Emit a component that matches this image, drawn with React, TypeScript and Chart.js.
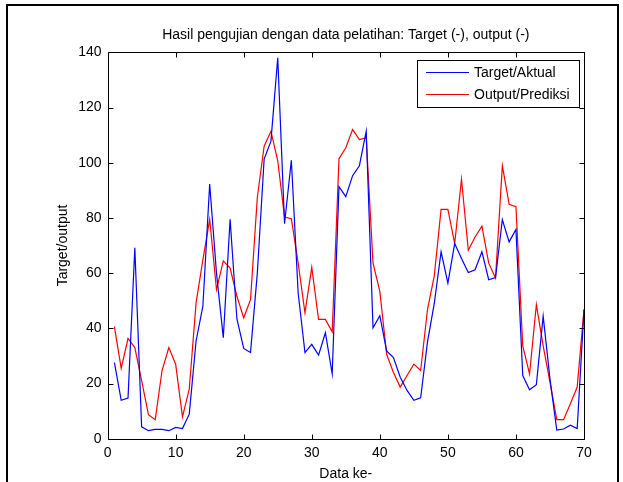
import React, { useEffect, useRef } from "react";
import { Chart, registerables } from "chart.js";

Chart.register(...registerables);

const TITLE = "Hasil pengujian dengan data pelatihan: Target (-), output (-)";
const X_TITLE = "Data ke-";
const Y_TITLE = "Target/output";
const SERIES_LABELS = ["Target/Aktual", "Output/Prediksi"];

const dataIndex = [
  1, 2, 3, 4, 5, 6, 7, 8, 9, 10, 11, 12, 13, 14, 15, 16, 17, 18, 19, 20,
  21, 22, 23, 24, 25, 26, 27, 28, 29, 30, 31, 32, 33, 34, 35, 36, 37, 38, 39, 40,
  41, 42, 43, 44, 45, 46, 47, 48, 49, 50, 51, 52, 53, 54, 55, 56, 57, 58, 59, 60,
  61, 62, 63, 64, 65, 66, 67, 68, 69, 70,
];

const targetValues = [
  27.6, 13.9, 14.7, 69.2, 4.3, 2.9, 3.4, 3.4, 2.9, 4.1,
  3.7, 8.9, 35.4, 48, 92.3, 60, 36.6, 79.5, 43.4, 32.7,
  31.2, 60, 101.3, 107.8, 138, 77.9, 100.9, 52.8, 31.2, 34.2,
  30.3, 38.4, 23.5, 91.3, 87.7, 95.3, 98.9, 111.4, 40.2, 44.6,
  31.8, 29.4, 22.3, 17.5, 13.9, 14.8, 35, 49, 67.7, 56.4,
  70.7, 65.3, 60.2, 61.2, 67.7, 57.6, 58.4, 79.4, 71.3, 75.8,
  22.9, 17.7, 19.6, 44.4, 21.7, 3.1, 3.5, 4.9, 3.7, 46.8,
];

const outputValues = [
  40.6, 25.5, 36.3, 33, 21, 8.7, 6.9, 24.7, 33, 27,
  7.9, 18, 49.2, 64.8, 79.5, 54, 64.4, 61.8, 51.6, 43.8,
  50.4, 87.5, 106, 111.4, 100.7, 80.3, 79.7, 63.6, 45.6, 62.1,
  43.2, 43.2, 38.7, 101.5, 105.4, 112, 108.4, 109, 63.6, 53.4,
  30.6, 24, 18.7, 22.9, 27, 24.7, 46.8, 59, 83.1, 83.1,
  70.7, 94, 68.3, 73.1, 77, 63.6, 58.2, 98.9, 84.9, 84.1,
  33.6, 23.5, 48.6, 33.6, 20.5, 6.9, 6.9, 12.7, 18.7, 46.8,
];

const X_MIN = 0;
const X_MAX = 70;
const X_STEP = 10;
const Y_MIN = 0;
const Y_MAX = 140;
const Y_STEP = 20;

const COLORS = ["#0000ff", "#ff0000"];
const FONT = "'Liberation Sans', Arial, Helvetica, sans-serif";
const FS = 14;

const W = 623;
const H = 500;

const matlabPlugin = {
  id: "matlabStyle",
  afterDraw(chart: any) {
    const { ctx, chartArea, scales } = chart;
    const { left, right, top, bottom } = chartArea;
    ctx.save();
    ctx.strokeStyle = "#000";
    ctx.lineWidth = 1;
    const L = Math.round(left) + 0.5;
    const R = Math.round(right) + 0.5;
    const T = Math.round(top) + 0.5;
    const B = Math.round(bottom) + 0.5;
    ctx.beginPath();
    ctx.rect(L, T, R - L, B - T);
    ctx.stroke();
    const tl = 5;
    ctx.beginPath();
    scales.x.ticks.forEach((t: any) => {
      const px = Math.round(scales.x.getPixelForValue(t.value)) + 0.5;
      ctx.moveTo(px, B);
      ctx.lineTo(px, B - tl);
      ctx.moveTo(px, T);
      ctx.lineTo(px, T + tl);
    });
    scales.y.ticks.forEach((t: any) => {
      const py = Math.round(scales.y.getPixelForValue(t.value)) + 0.5;
      ctx.moveTo(L, py);
      ctx.lineTo(L + tl, py);
      ctx.moveTo(R, py);
      ctx.lineTo(R - tl, py);
    });
    ctx.stroke();

    // legend
    const lx = 417, ly = 60, lw = 162, lh = 47;
    ctx.fillStyle = "#fff";
    ctx.fillRect(lx, ly, lw, lh);
    ctx.strokeStyle = "#000";
    ctx.strokeRect(lx + 0.5, ly + 0.5, lw, lh);
    ctx.font = `${FS}px ${FONT}`;
    ctx.textBaseline = "middle";
    ctx.textAlign = "left";
    chart.data.datasets.forEach((ds: any, i: number) => {
      const yy = 72.5 + i * 22;
      ctx.strokeStyle = ds.borderColor;
      ctx.lineWidth = 1.2;
      ctx.beginPath();
      ctx.moveTo(426, yy);
      ctx.lineTo(469, yy);
      ctx.stroke();
      ctx.fillStyle = "#000";
      ctx.fillText(ds.label, 474, yy + 0.5);
    });

    // outer figure frame
    ctx.fillStyle = "#000";
    ctx.fillRect(6, 4, 613, 2);
    ctx.fillRect(6, 4, 2, H);
    ctx.fillRect(617, 4, 2, H);
    ctx.restore();
  },
};

export default function App() {
  const ref = useRef<HTMLCanvasElement | null>(null);
  useEffect(() => {
    if (!ref.current) return;
    Chart.defaults.color = "#000";
    Chart.defaults.font.family = FONT;
    const chart = new Chart(ref.current, {
      type: "line",
      data: {
        datasets: [
          {
            label: SERIES_LABELS[0],
            data: dataIndex.map((x, i) => ({ x, y: targetValues[i] })),
            borderColor: COLORS[0],
            backgroundColor: COLORS[0],
            borderWidth: 1.2,
            pointRadius: 0,
            tension: 0,
            fill: false,
          },
          {
            label: SERIES_LABELS[1],
            data: dataIndex.map((x, i) => ({ x, y: outputValues[i] })),
            borderColor: COLORS[1],
            backgroundColor: COLORS[1],
            borderWidth: 1.2,
            pointRadius: 0,
            tension: 0,
            fill: false,
          },
        ],
      },
      plugins: [matlabPlugin],
      options: {
        animation: false,
        responsive: false,
        devicePixelRatio: 1,
        layout: { padding: { left: 0, right: 39, top: 0, bottom: 0 } },
        plugins: {
          legend: { display: false },
          tooltip: { enabled: false },
          title: {
            display: true,
            text: TITLE,
            fullSize: false,
            color: "#000",
            font: { size: FS, weight: "normal", family: FONT },
            padding: { top: 26.6, bottom: 8.9 },
          },
        },
        scales: {
          x: {
            type: "linear",
            min: X_MIN,
            max: X_MAX,
            grid: { display: false, drawTicks: false },
            border: { display: false },
            ticks: { stepSize: X_STEP, padding: 6, maxRotation: 0, font: { size: FS, family: FONT }, color: "#000" },
            title: { display: true, text: X_TITLE, font: { size: FS, family: FONT }, color: "#000", padding: { top: 0, bottom: 17.6 } },
            afterFit: (s: any) => { s.height = 61.3; },
          },
          y: {
            type: "linear",
            min: Y_MIN,
            max: Y_MAX,
            grid: { display: false, drawTicks: false },
            border: { display: false },
            ticks: { stepSize: Y_STEP, padding: 6, font: { size: FS, family: FONT }, color: "#000" },
            title: { display: true, text: Y_TITLE, font: { size: FS, family: FONT }, color: "#000", padding: { top: 54.6, bottom: 0 } },
            afterFit: (s: any) => { s.width = 107.6; },
          },
        },
      },
    } as any);
    return () => chart.destroy();
  }, []);
  return (
    <div style={{ position: "fixed", left: 0, top: 0, width: W, height: 482, overflow: "hidden", background: "#fff" }}>
      <canvas ref={ref} width={W} height={H} style={{ display: "block", width: W, height: H }} />
    </div>
  );
}
